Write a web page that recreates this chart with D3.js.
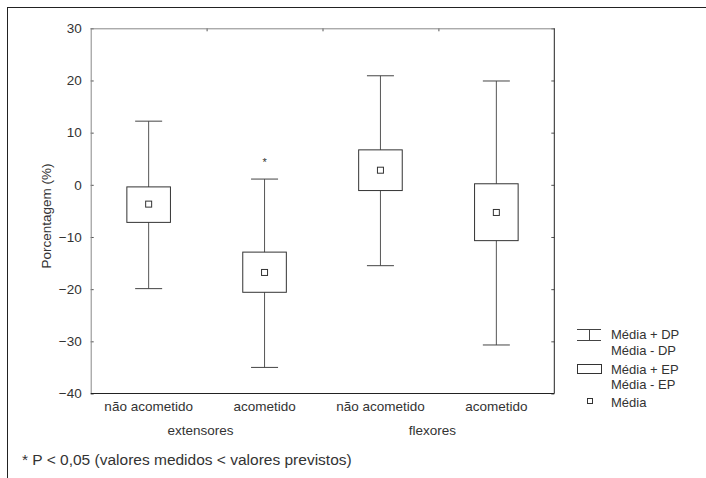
<!DOCTYPE html>
<html>
<head>
<meta charset="utf-8">
<script src="https://cdn.jsdelivr.net/npm/d3@7"></script>
<style>
  body { margin: 0; background: #fff; }
  text { font-family: "Liberation Sans", Arial, sans-serif; fill: #333; }
</style>
</head>
<body>
<div id="chart"></div>
<script>
// data
var categories = ["não acometido", "acometido", "não acometido", "acometido"];
var groups = ["extensores", "flexores"];
var media = [-3.7, -16.8, 2.8, -5.3];
var epHigh = [-0.4, -12.9, 6.7, 0.2];
var epLow = [-7.2, -20.6, -1.1, -10.7];
var dpHigh = [12.2, 1.1, 20.9, 19.9];
var dpLow = [-19.9, -35.0, -15.5, -30.7];
var signif = [false, true, false, false];
var yTicks = [30, 20, 10, 0, -10, -20, -30, -40];
var legendLabels = ["Média + DP", "Média - DP", "Média + EP", "Média - EP", "Média"];

var width = 706, height = 478;
var margin = { top: 28.3, right: 151.7, bottom: 84.5, left: 90.7 },
    w = width - margin.left - margin.right,
    h = height - margin.top - margin.bottom;

var svg = d3.select("#chart").append("svg")
    .attr("width", width)
    .attr("height", height);

// outer frame (only top and left are inside the picture)
svg.append("rect")
    .attr("x", 7.5).attr("y", 7.5)
    .attr("width", width + 20).attr("height", height + 20)
    .attr("fill", "none").attr("stroke", "#222");

var g = svg.append("g")
    .attr("transform", "translate(" + margin.left + "," + margin.top + ")");

var idx = d3.range(categories.length);
var x = d3.scaleBand().domain(idx).range([0, w]).padding(0);
var y = d3.scaleLinear().domain([-40, 30]).range([h, 0]);
var xb = d3.scaleLinear().domain([0, categories.length]).range([0, w]);

// axes
var yAxis = g.append("g")
    .call(d3.axisLeft(y).tickValues(yTicks).tickSize(-3).tickPadding(9));
yAxis.select(".domain").remove();
yAxis.selectAll("line").attr("stroke", "#555");
yAxis.selectAll("text").style("font-size", "13.5px").attr("fill", "#333");

var yAxisR = g.append("g")
    .attr("transform", "translate(" + w + ",0)")
    .call(d3.axisRight(y).tickValues(yTicks).tickSize(-3).tickFormat(""));
yAxisR.select(".domain").remove();
yAxisR.selectAll("line").attr("stroke", "#555");

var xTop = g.append("g")
    .call(d3.axisTop(xb).tickValues([1, 2, 3]).tickSize(-3).tickFormat(""));
xTop.select(".domain").remove();
xTop.selectAll("line").attr("stroke", "#555");

var xAxis = g.append("g")
    .attr("transform", "translate(0," + h + ")")
    .call(d3.axisBottom(x).tickSize(0).tickPadding(8)
        .tickFormat(function (i) { return categories[i]; }));
xAxis.select(".domain").remove();
xAxis.selectAll("text").style("font-size", "13.5px").attr("fill", "#333");

// y title
svg.append("text")
    .attr("transform", "translate(51,216) rotate(-90)")
    .attr("text-anchor", "middle")
    .style("font-size", "13.5px")
    .text("Porcentagem (%)");

// plot frame
g.append("line").attr("x1", 0).attr("x2", w).attr("y1", 0.5).attr("y2", 0.5).attr("stroke", "#888");
g.append("line").attr("x1", 0.5).attr("x2", 0.5).attr("y1", 0).attr("y2", h).attr("stroke", "#888");
g.append("line").attr("x1", w).attr("x2", w).attr("y1", 0).attr("y2", h).attr("stroke", "#222");
g.append("line").attr("x1", 0).attr("x2", w).attr("y1", h).attr("y2", h).attr("stroke", "#222");

// group labels
groups.forEach(function (name, k) {
    g.append("text")
        .attr("x", xb(2 * k + 1) - 6)
        .attr("y", h + 42)
        .attr("text-anchor", "middle")
        .style("font-size", "13.5px")
        .text(name);
});

var boxW = x.bandwidth() * 0.376, capW = x.bandwidth() * 0.233;
var cx = function (i) { return x(i) + x.bandwidth() / 2; };

var items = g.selectAll(".item").data(idx).enter().append("g").attr("class", "item");

// whiskers
items.append("line")
    .attr("x1", cx).attr("x2", cx)
    .attr("y1", function (i) { return y(dpHigh[i]); })
    .attr("y2", function (i) { return y(dpLow[i]); })
    .attr("stroke", "#555");
items.append("line")
    .attr("x1", function (i) { return cx(i) - capW / 2; })
    .attr("x2", function (i) { return cx(i) + capW / 2; })
    .attr("y1", function (i) { return y(dpHigh[i]); })
    .attr("y2", function (i) { return y(dpHigh[i]); })
    .attr("stroke", "#444");
items.append("line")
    .attr("x1", function (i) { return cx(i) - capW / 2; })
    .attr("x2", function (i) { return cx(i) + capW / 2; })
    .attr("y1", function (i) { return y(dpLow[i]); })
    .attr("y2", function (i) { return y(dpLow[i]); })
    .attr("stroke", "#444");

// boxes
items.append("rect")
    .attr("x", function (i) { return cx(i) - boxW / 2; })
    .attr("y", function (i) { return y(epHigh[i]); })
    .attr("width", boxW)
    .attr("height", function (i) { return y(epLow[i]) - y(epHigh[i]); })
    .attr("fill", "#fff").attr("stroke", "#333");

// means
items.append("rect")
    .attr("x", function (i) { return cx(i) - 3; })
    .attr("y", function (i) { return y(media[i]) - 3; })
    .attr("width", 6).attr("height", 6)
    .attr("fill", "#fff").attr("stroke", "#333");

// significance star
items.filter(function (i) { return signif[i]; })
    .append("text")
    .attr("x", cx)
    .attr("y", function (i) { return y(dpHigh[i]) - 13; })
    .attr("text-anchor", "middle")
    .style("font-size", "11px")
    .text("*");

// legend
var lg = svg.append("g").attr("transform", "translate(577,0)");
lg.append("line").attr("x1", 0).attr("x2", 24).attr("y1", 329.5).attr("y2", 329.5).attr("stroke", "#444");
lg.append("line").attr("x1", 0).attr("x2", 24).attr("y1", 340.5).attr("y2", 340.5).attr("stroke", "#444");
lg.append("line").attr("x1", 12.5).attr("x2", 12.5).attr("y1", 329.5).attr("y2", 340.5).attr("stroke", "#444");
lg.append("rect").attr("x", 0.5).attr("y", 364.5).attr("width", 24).attr("height", 9)
    .attr("fill", "#fff").attr("stroke", "#333");
lg.append("rect").attr("x", 10.5).attr("y", 398.5).attr("width", 5).attr("height", 5)
    .attr("fill", "#fff").attr("stroke", "#333");
var legendY = [338.5, 355, 373.5, 389, 407];
legendLabels.forEach(function (t, k) {
    lg.append("text")
        .attr("x", 34)
        .attr("y", legendY[k])
        .style("font-size", "13px")
        .text(t);
});

// footnote
svg.append("text")
    .attr("x", 22)
    .attr("y", 465)
    .style("font-size", "15.5px")
    .text("* P < 0,05 (valores medidos < valores previstos)");
</script>
</body>
</html>
